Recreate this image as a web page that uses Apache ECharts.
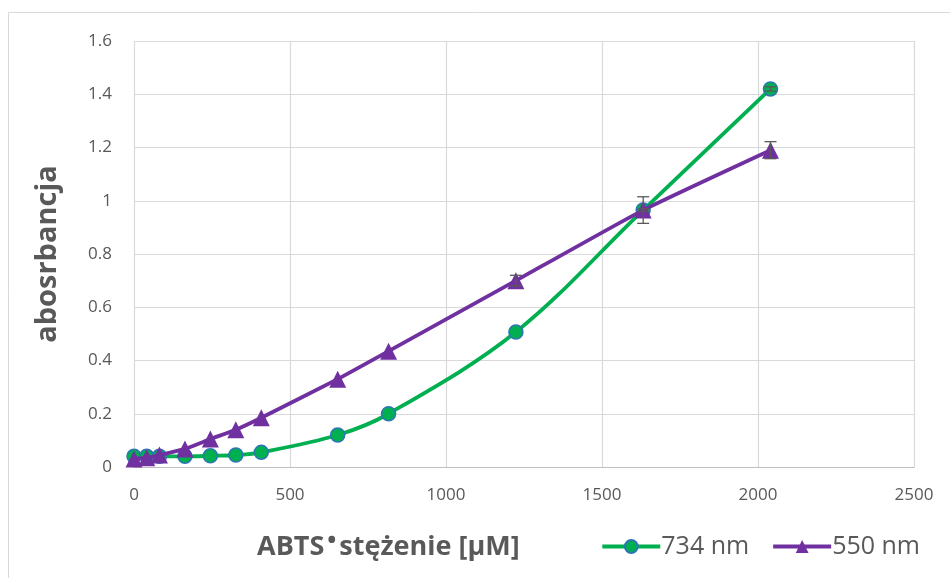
<!DOCTYPE html>
<html>
<head>
<meta charset="utf-8">
<script src="https://cdn.jsdelivr.net/npm/echarts@6/dist/echarts.min.js"></script>
<style>
  html, body { margin: 0; padding: 0; background: #fff; }
  #chart { width: 950px; height: 578px; }
</style>
</head>
<body>
<div id="chart"></div>
<script>
// ABTS radical concentration [µM]
const concentration = [0, 40.8, 81.6, 163.2, 244.8, 326.4, 408, 652.8, 816, 1224, 1632, 2040];
// absorbance at 734 nm
const abs734 = [0.04, 0.04, 0.04, 0.04, 0.042, 0.045, 0.055, 0.12, 0.2, 0.507, 0.965, 1.42];
const err734 = [0, 0, 0, 0, 0, 0, 0, 0, 0, 0, 0.005, 0.008];
// absorbance at 550 nm
const abs550 = [0.03, 0.035, 0.045, 0.068, 0.105, 0.14, 0.185, 0.33, 0.435, 0.70, 0.965, 1.19];
const err550 = [0, 0, 0, 0, 0, 0, 0, 0, 0, 0.02, 0.05, 0.032];
const xTicks = [0, 500, 1000, 1500, 2000, 2500];
const yTicks = [0, 0.2, 0.4, 0.6, 0.8, 1, 1.2, 1.4, 1.6];

const FONT = '"Open Sans", sans-serif';
const GREY = '#595959';
const GREEN = '#00b050';
const PURPLE = '#7030a0';

function pairs(xs, ys) { return xs.map((x, i) => [x, ys[i]]); }
function errData(xs, ys, es) { return xs.map((x, i) => [x, ys[i] - es[i], ys[i] + es[i]]); }

function errorBar(params, api) {
  const x = api.value(0);
  const lo = api.coord([x, api.value(1)]);
  const hi = api.coord([x, api.value(2)]);
  if (Math.abs(hi[1] - lo[1]) < 1) return null;
  const w = 6;
  const style = { stroke: GREY, lineWidth: 1.3 };
  return {
    type: 'group',
    children: [
      { type: 'line', shape: { x1: lo[0], y1: lo[1], x2: hi[0], y2: hi[1] }, style },
      { type: 'line', shape: { x1: lo[0] - w, y1: lo[1], x2: lo[0] + w, y2: lo[1] }, style },
      { type: 'line', shape: { x1: hi[0] - w, y1: hi[1], x2: hi[0] + w, y2: hi[1] }, style }
    ]
  };
}

const chart = echarts.init(document.getElementById('chart'), null, { renderer: 'canvas' });
chart.setOption({
  backgroundColor: '#fff',
  animation: false,
  textStyle: { fontFamily: FONT },
  graphic: [{
    type: 'rect',
    shape: { x: 8.5, y: 12.5, width: 960, height: 600 },
    style: { fill: 'none', stroke: '#d9d9d9', lineWidth: 1 },
    silent: true,
    z: -10
  }],
  // x-axis title, placed left of the legend below the tick labels
  title: {
    left: 257,
    top: 529,
    padding: 0,
    text: '{b|ABTS}{s|\u2022}{b|stężenie [µM]}',
    textStyle: {
      rich: {
        b: { fontFamily: FONT, fontSize: 27, fontWeight: 'bold', color: GREY, lineHeight: 36 },
        s: { fontFamily: FONT, fontSize: 24, fontWeight: 'bold', color: GREY, lineHeight: 22, verticalAlign: 'top', padding: [0, 3, 0, 3] }
      }
    }
  },
  grid: { left: 134, right: 36, top: 41, bottom: 111, containLabel: false },
  xAxis: {
    type: 'value',
    min: xTicks[0], max: xTicks[xTicks.length - 1], interval: 500,
    axisLine: { show: true, lineStyle: { color: '#bfbfbf', width: 1.2 } },
    axisTick: { show: false },
    axisLabel: { fontSize: 17, color: GREY, margin: 20, fontFamily: FONT, formatter: v => String(v) },
    splitLine: { show: true, lineStyle: { color: '#d9d9d9', width: 1.2 } }
  },
  yAxis: {
    type: 'value',
    min: yTicks[0], max: yTicks[yTicks.length - 1], interval: 0.2,
    name: 'abosrbancja',
    nameLocation: 'middle',
    nameGap: 72,
    nameRotate: 90,
    nameTextStyle: { fontFamily: FONT, fontSize: 29, fontWeight: 'bold', color: GREY },
    axisLine: { show: false },
    axisTick: { show: false },
    axisLabel: {
      fontSize: 17, color: GREY, margin: 22, fontFamily: FONT,
      formatter: v => String(Math.round(v * 10) / 10)
    },
    splitLine: { show: true, lineStyle: { color: '#d9d9d9', width: 1.2 } }
  },
  legend: {
    right: 30,
    top: 534,
    padding: 0,
    itemWidth: 58,
    itemHeight: 16,
    itemGap: 22,
    lineStyle: { width: 4 },
    textStyle: { fontSize: 25, color: GREY, fontFamily: FONT, padding: [0, 0, 0, -4] },
    data: ['734 nm', '550 nm']
  },
  series: [
    {
      name: '734 nm',
      type: 'line',
      data: pairs(concentration, abs734),
      smooth: 0.35,
      symbol: 'circle',
      symbolSize: 14,
      lineStyle: { color: GREEN, width: 3.8 },
      itemStyle: { color: GREEN, borderColor: '#2e75b6', borderWidth: 1.5 },
      z: 3
    },
    {
      name: '550 nm',
      type: 'line',
      data: pairs(concentration, abs550),
      smooth: 0.15,
      symbol: 'triangle',
      symbolSize: 17,
      lineStyle: { color: PURPLE, width: 3.8 },
      itemStyle: { color: PURPLE },
      z: 4
    },
    {
      type: 'custom',
      renderItem: errorBar,
      data: errData(concentration, abs734, err734),
      encode: { x: 0, y: [1, 2] },
      silent: true,
      z: 5
    },
    {
      type: 'custom',
      renderItem: errorBar,
      data: errData(concentration, abs550, err550),
      encode: { x: 0, y: [1, 2] },
      silent: true,
      z: 5
    }
  ]
});
</script>
</body>
</html>
